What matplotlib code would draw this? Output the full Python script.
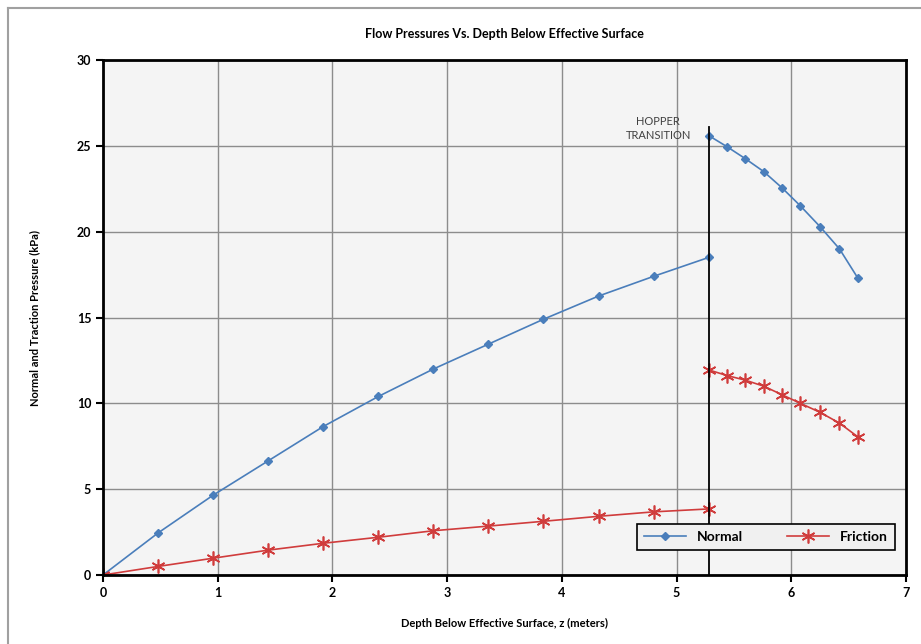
import numpy as np
import matplotlib.pyplot as plt
from matplotlib.lines import Line2D

plt.rcParams['font.family'] = ['Lato', 'DejaVu Sans']

# silo section
z_silo = [0, 0.48, 0.96, 1.44, 1.92, 2.40, 2.88, 3.36, 3.84, 4.32, 4.80, 5.28]
normal_silo = [0, 2.45, 4.65, 6.65, 8.65, 10.4, 12.0, 13.45, 14.9, 16.25, 17.4, 18.5]
friction_silo = [0, 0.5, 0.98, 1.45, 1.85, 2.2, 2.58, 2.85, 3.13, 3.42, 3.68, 3.85]

# hopper section
z_hop = [5.28, 5.44, 5.60, 5.76, 5.92, 6.08, 6.25, 6.42, 6.58]
normal_hop = [25.6, 24.95, 24.25, 23.5, 22.55, 21.5, 20.3, 19.0, 17.3]
friction_hop = [11.95, 11.62, 11.35, 11.0, 10.5, 10.0, 9.48, 8.85, 8.05]

z_transition = 5.28
blue = '#4a7ebb'
red = '#d03c3c'

fig = plt.figure(figsize=(9.21, 6.44), dpi=100)
ax = fig.add_axes([0.1118, 0.1071, 0.8719, 0.7997])
ax.set_facecolor('#f4f4f4')

ax.plot(z_silo, normal_silo, color=blue, marker='D', markersize=4, lw=1.2)
ax.plot(z_hop, normal_hop, color=blue, marker='D', markersize=4, lw=1.2)
ax.plot(z_silo, friction_silo, color=red, marker=(6, 2, 0), markersize=10, mew=1.2, lw=1.2)
ax.plot(z_hop, friction_hop, color=red, marker=(6, 2, 0), markersize=10, mew=1.2, lw=1.2)

ax.plot([z_transition, z_transition], [0, 26.1], color='black', lw=1.3)
ax.text(4.84, 26.0, 'HOPPER\nTRANSITION', ha='center', va='center',
        fontsize=8, color='#404040', linespacing=1.4)

ax.set_xlim(0, 7)
ax.set_ylim(0, 30)
ax.set_xticks(range(0, 8))
ax.set_yticks(range(0, 31, 5))
ax.grid(True, color='#8c8c8c', lw=1.0)
ax.set_axisbelow(True)
for s in ax.spines.values():
    s.set_linewidth(2)
    s.set_color('black')
ax.tick_params(axis='both', direction='out', length=5, width=1.5, labelsize=9)
for lab in ax.get_xticklabels() + ax.get_yticklabels():
    lab.set_fontweight('bold')

ax.set_title('Flow Pressures Vs. Depth Below Effective Surface', fontsize=9,
             fontweight='bold', pad=16)
ax.set_xlabel('Depth Below Effective Surface, z (meters)', fontsize=8,
              fontweight='bold', labelpad=14)
ax.set_ylabel('Normal and Traction Pressure (kPa)', fontsize=8,
              fontweight='bold', labelpad=26)

handles = [Line2D([], [], color=blue, marker='D', markersize=4, lw=1.2),
           Line2D([], [], color=red, marker=(6, 2, 0), markersize=10, mew=1.2, lw=1.2)]
leg = ax.legend(handles, ['Normal', 'Friction'], loc='lower right',
                bbox_to_anchor=(0.995, 0.035), ncol=2, fancybox=False,
                framealpha=1, edgecolor='black', facecolor='#f0f0f0',
                prop={'weight': 'bold', 'size': 10}, handlelength=3,
                columnspacing=3.2, borderpad=0.5)
leg.get_frame().set_linewidth(1.2)

# outer chart frame
fig.add_artist(Line2D([8 / 921, 8 / 921], [0, 1 - 8 / 644], color='#a0a0a0', lw=1.5))
fig.add_artist(Line2D([8 / 921, 1], [1 - 8 / 644, 1 - 8 / 644], color='#a0a0a0', lw=1.5))

fig.savefig('out.png', dpi=100)
